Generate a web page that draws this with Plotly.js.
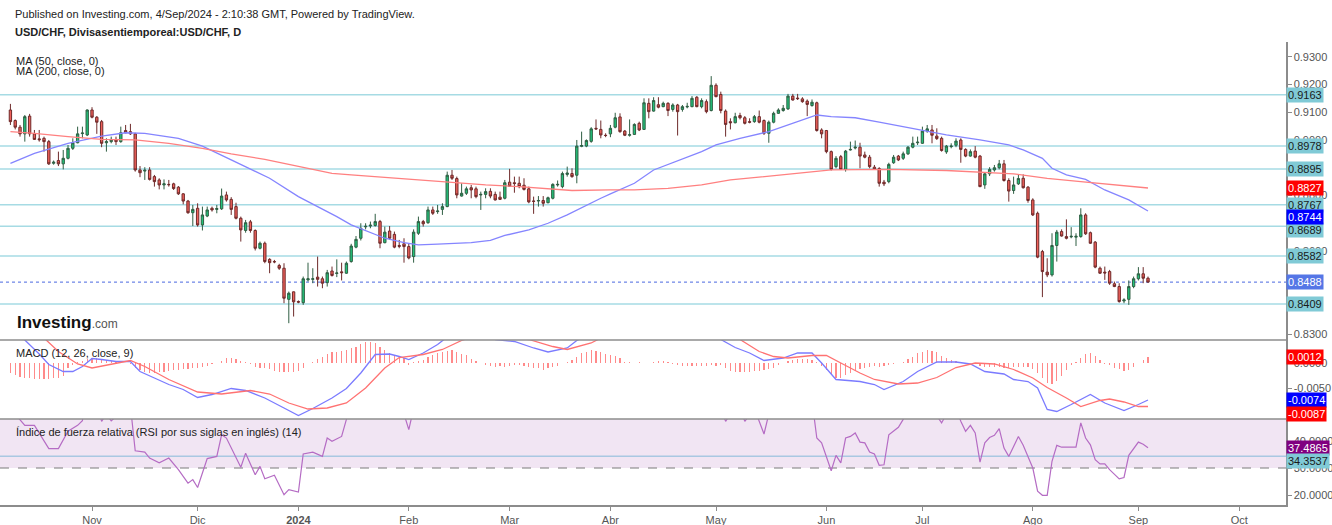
<!DOCTYPE html>
<html>
<head>
<meta charset="utf-8">
<script src="https://cdn.plot.ly/plotly-3.0.1.min.js"></script>
<style>
  body { margin: 0; background: #fff; }
  #chart { width: 1332px; height: 525px; }
</style>
</head>
<body>
<div id="chart"></div>
<script>
// USD/CHF daily candles, 9 Oct 2023 .. 4 Sep 2024, one entry per weekday
var open = [
  0.9108,0.9070,0.9046,0.9022,0.9086,0.9022,0.9004,0.9006,0.8994,0.8916,
  0.8926,0.8914,0.8934,0.8970,0.8990,0.9023,0.9018,0.9108,0.9082,0.9066,
  0.8990,0.8994,0.9002,0.8994,0.9034,0.9030,0.9022,0.8892,0.8888,0.8892,
  0.8868,0.8856,0.8838,0.8840,0.8842,0.8830,0.8806,0.8780,0.8738,0.8754,
  0.8694,0.8726,0.8754,0.8750,0.8752,0.8802,0.8786,0.8760,0.8718,0.8674,
  0.8705,0.8674,0.8610,0.8628,0.8570,0.8562,0.8548,0.8538,0.8426,0.8453,
  0.8418,0.8414,0.8496,0.8498,0.8506,0.8500,0.8486,0.8528,0.8519,0.8525,
  0.8520,0.8562,0.8614,0.8646,0.8687,0.8690,0.8692,0.8706,0.8630,0.8672,
  0.8660,0.8620,0.8626,0.8616,0.8580,0.8664,0.8706,0.8702,0.8748,0.8742,
  0.8750,0.8760,0.8873,0.8861,0.8798,0.8808,0.8828,0.8824,0.8802,0.8804,
  0.8815,0.8804,0.8794,0.8790,0.8848,0.8846,0.8844,0.8837,0.8824,0.8780,
  0.8780,0.8782,0.8774,0.8790,0.8838,0.8832,0.8876,0.8879,0.8873,0.8977,
  0.8978,0.8995,0.9042,0.9038,0.9017,0.9022,0.9046,0.9083,0.9032,0.9017,
  0.9020,0.9060,0.9038,0.9132,0.9104,0.9127,0.9120,0.9132,0.9110,0.9126,
  0.9110,0.9119,0.9120,0.9154,0.9120,0.9138,0.9106,0.9197,0.9164,0.9104,
  0.9066,0.9062,0.9088,0.9080,0.9066,0.9066,0.9084,0.9070,0.9024,0.9064,
  0.9096,0.9106,0.9112,0.9158,0.9151,0.9148,0.9140,0.9124,0.9134,0.9036,
  0.9034,0.8958,0.8904,0.8940,0.8894,0.8964,0.8971,0.8974,0.8946,0.8938,
  0.8902,0.8897,0.8848,0.8850,0.8918,0.8942,0.8934,0.8950,0.8974,0.8990,
  0.8988,0.9032,0.9036,0.9014,0.9006,0.8957,0.8976,0.8981,0.9000,0.8966,
  0.8942,0.8960,0.8942,0.8838,0.8878,0.8892,0.8900,0.8914,0.8854,0.8818,
  0.8842,0.8862,0.8830,0.8784,0.8736,0.8598,0.8524,0.8514,0.8620,0.8670,
  0.8652,0.8651,0.8650,0.8652,0.8730,0.8666,0.8632,0.8538,0.8524,0.8526,
  0.8482,0.8472,0.8420,0.8426,0.8472,0.8500,0.8518,0.8502
];
var high = [
  0.9130,0.9074,0.9054,0.9090,0.9094,0.9036,0.9036,0.9012,0.9000,0.8926,
  0.8958,0.8964,0.8982,0.9006,0.9048,0.9048,0.9110,0.9118,0.9086,0.9072,
  0.9006,0.9012,0.9012,0.9048,0.9054,0.9058,0.9026,0.8906,0.8902,0.8902,
  0.8874,0.8862,0.8858,0.8856,0.8846,0.8834,0.8808,0.8784,0.8766,0.8772,
  0.8760,0.8760,0.8760,0.8766,0.8825,0.8814,0.8794,0.8774,0.8724,0.8712,
  0.8712,0.8678,0.8634,0.8634,0.8574,0.8568,0.8554,0.8556,0.8454,0.8454,
  0.8422,0.8508,0.8558,0.8538,0.8580,0.8508,0.8532,0.8544,0.8570,0.8558,
  0.8562,0.8626,0.8654,0.8700,0.8700,0.8706,0.8734,0.8712,0.8688,0.8690,
  0.8670,0.8640,0.8646,0.8628,0.8678,0.8724,0.8712,0.8760,0.8760,0.8766,
  0.8772,0.8886,0.8892,0.8868,0.8844,0.8832,0.8838,0.8832,0.8814,0.8826,
  0.8826,0.8814,0.8814,0.8856,0.8896,0.8868,0.8868,0.8862,0.8832,0.8796,
  0.8798,0.8798,0.8796,0.8844,0.8854,0.8886,0.8904,0.8898,0.9000,0.9030,
  0.9002,0.9046,0.9074,0.9070,0.9024,0.9054,0.9098,0.9096,0.9036,0.9074,
  0.9060,0.9066,0.9150,0.9150,0.9154,0.9154,0.9138,0.9136,0.9132,0.9130,
  0.9126,0.9134,0.9158,0.9158,0.9150,0.9146,0.9230,0.9204,0.9174,0.9110,
  0.9078,0.9098,0.9098,0.9086,0.9078,0.9090,0.9106,0.9074,0.9070,0.9102,
  0.9114,0.9126,0.9166,0.9166,0.9166,0.9154,0.9146,0.9146,0.9138,0.9042,
  0.9036,0.8962,0.8942,0.8946,0.8964,0.8994,0.8998,0.8990,0.8958,0.8946,
  0.8910,0.8902,0.8856,0.8918,0.8946,0.8946,0.8958,0.8978,0.9012,0.9012,
  0.9048,0.9054,0.9054,0.9042,0.9012,0.8982,0.8988,0.9006,0.9006,0.8970,
  0.8966,0.8978,0.8946,0.8882,0.8902,0.8910,0.8928,0.8928,0.8862,0.8868,
  0.8874,0.8876,0.8834,0.8790,0.8742,0.8604,0.8574,0.8664,0.8676,0.8678,
  0.8714,0.8686,0.8664,0.8754,0.8736,0.8670,0.8636,0.8544,0.8544,0.8532,
  0.8490,0.8484,0.8430,0.8494,0.8508,0.8542,0.8542,0.8508
];
var low = [
  0.9054,0.9038,0.9012,0.8994,0.9012,0.9000,0.8994,0.8958,0.8910,0.8911,
  0.8906,0.8894,0.8930,0.8964,0.8988,0.9006,0.9014,0.9078,0.9022,0.8974,
  0.8958,0.8988,0.8982,0.8990,0.9024,0.9018,0.8886,0.8866,0.8856,0.8854,
  0.8832,0.8822,0.8822,0.8832,0.8820,0.8802,0.8768,0.8734,0.8690,0.8688,
  0.8674,0.8722,0.8742,0.8736,0.8748,0.8778,0.8730,0.8714,0.8634,0.8666,
  0.8666,0.8602,0.8606,0.8556,0.8520,0.8556,0.8532,0.8412,0.8340,0.8364,
  0.8412,0.8406,0.8490,0.8484,0.8472,0.8466,0.8472,0.8508,0.8506,0.8494,
  0.8518,0.8558,0.8610,0.8638,0.8678,0.8682,0.8688,0.8610,0.8628,0.8640,
  0.8610,0.8610,0.8558,0.8570,0.8558,0.8658,0.8688,0.8698,0.8730,0.8734,
  0.8730,0.8758,0.8856,0.8790,0.8796,0.8802,0.8790,0.8790,0.8748,0.8790,
  0.8790,0.8782,0.8784,0.8786,0.8832,0.8810,0.8826,0.8818,0.8772,0.8734,
  0.8760,0.8760,0.8772,0.8786,0.8832,0.8826,0.8868,0.8864,0.8844,0.8974,
  0.8974,0.8990,0.9036,0.9006,0.9010,0.9010,0.9042,0.9026,0.9014,0.9012,
  0.9018,0.9032,0.9036,0.9078,0.9102,0.9114,0.9118,0.9086,0.9102,0.9016,
  0.9102,0.9114,0.9118,0.9118,0.9114,0.9096,0.9103,0.9154,0.9096,0.9012,
  0.9038,0.9060,0.9074,0.9056,0.9060,0.9062,0.9060,0.9018,0.8990,0.9060,
  0.9094,0.9102,0.9108,0.9142,0.9144,0.9134,0.9086,0.9120,0.9030,0.9006,
  0.8952,0.8890,0.8898,0.8892,0.8886,0.8962,0.8966,0.8898,0.8934,0.8898,
  0.8892,0.8832,0.8834,0.8844,0.8914,0.8924,0.8928,0.8946,0.8970,0.8982,
  0.8986,0.9026,0.8988,0.9000,0.8958,0.8950,0.8970,0.8974,0.8918,0.8938,
  0.8940,0.8934,0.8830,0.8824,0.8870,0.8886,0.8894,0.8850,0.8778,0.8806,
  0.8838,0.8825,0.8774,0.8726,0.8574,0.8434,0.8506,0.8508,0.8562,0.8652,
  0.8642,0.8646,0.8618,0.8648,0.8658,0.8626,0.8538,0.8518,0.8496,0.8478,
  0.8470,0.8414,0.8412,0.8406,0.8466,0.8494,0.8484,0.8486
];
var close = [
  0.9066,0.9046,0.9022,0.9084,0.9022,0.9002,0.9001,0.8994,0.8914,0.8920,
  0.8914,0.8934,0.8970,0.8990,0.9022,0.9025,0.9108,0.9082,0.9064,0.8988,
  0.8994,0.9002,0.8994,0.9026,0.9026,0.9022,0.8892,0.8882,0.8891,0.8858,
  0.8850,0.8838,0.8842,0.8839,0.8825,0.8806,0.8780,0.8738,0.8750,0.8694,
  0.8730,0.8748,0.8748,0.8753,0.8798,0.8784,0.8750,0.8718,0.8676,0.8702,
  0.8674,0.8610,0.8628,0.8562,0.8558,0.8561,0.8538,0.8430,0.8448,0.8417,
  0.8416,0.8500,0.8500,0.8500,0.8498,0.8484,0.8522,0.8512,0.8521,0.8522,
  0.8556,0.8618,0.8642,0.8682,0.8689,0.8693,0.8706,0.8628,0.8668,0.8646,
  0.8614,0.8617,0.8616,0.8575,0.8668,0.8706,0.8698,0.8748,0.8736,0.8744,
  0.8760,0.8873,0.8862,0.8802,0.8808,0.8824,0.8820,0.8796,0.8804,0.8814,
  0.8798,0.8784,0.8786,0.8846,0.8833,0.8843,0.8832,0.8822,0.8777,0.8779,
  0.8782,0.8772,0.8792,0.8840,0.8840,0.8879,0.8881,0.8868,0.8978,0.8980,
  0.8998,0.9040,0.9040,0.9018,0.9016,0.9042,0.9080,0.9030,0.9017,0.9019,
  0.9056,0.9036,0.9134,0.9102,0.9142,0.9118,0.9132,0.9106,0.9126,0.9102,
  0.9120,0.9121,0.9150,0.9120,0.9142,0.9102,0.9197,0.9156,0.9106,0.9056,
  0.9062,0.9084,0.9080,0.9060,0.9064,0.9084,0.9064,0.9024,0.9064,0.9096,
  0.9108,0.9114,0.9158,0.9144,0.9149,0.9138,0.9128,0.9136,0.9034,0.9022,
  0.8958,0.8894,0.8934,0.8894,0.8960,0.8966,0.8974,0.8942,0.8938,0.8904,
  0.8894,0.8844,0.8842,0.8912,0.8938,0.8928,0.8950,0.8974,0.8988,0.8992,
  0.9032,0.9040,0.9017,0.9005,0.8962,0.8978,0.8978,0.8996,0.8966,0.8942,
  0.8958,0.8938,0.8832,0.8878,0.8894,0.8900,0.8914,0.8854,0.8816,0.8838,
  0.8861,0.8828,0.8782,0.8730,0.8578,0.8526,0.8514,0.8620,0.8668,0.8654,
  0.8646,0.8653,0.8653,0.8730,0.8662,0.8628,0.8542,0.8520,0.8521,0.8484,
  0.8472,0.8418,0.8424,0.8472,0.8500,0.8518,0.8502,0.8488
];
var bars = close.map(function (_, i) { return i; });

// month ticks (bar index of first trading day) and their labels
var monthTicks = [17, 39, 60, 83, 104, 125, 147, 170, 190, 213, 235, 256];
var monthLabels = ['Nov', 'Dic', '<b>2024</b>', 'Feb', 'Mar', 'Abr', 'May', 'Jun', 'Jul', 'Ago', 'Sep', 'Oct'];

// moving averages at these bars
var ma50Bars = [0,5,12,19,24,28,35,40,46,54,60,64,68,71,75,78,82,85,89,96,100,103,108,112,116,120,123,125,130,134,140,144,147,152,158,162,165,168,171,176,181,188,195,202,208,211,215,217,220,224,228,233,237];
var ma50 = [0.8916,0.8952,0.8988,0.9014,0.9026,0.9024,0.9006,0.8978,0.8928,0.8862,0.8796,0.8760,0.8724,0.8694,0.8666,0.8646,0.8630,0.8622,0.8625,0.8630,0.8638,0.8656,0.8676,0.8700,0.8730,0.8766,0.8790,0.8806,0.8844,0.8892,0.8930,0.8958,0.8982,0.9006,0.9030,0.9054,0.9074,0.9090,0.9084,0.9080,0.9064,0.9042,0.9018,0.9000,0.8982,0.8964,0.8934,0.8898,0.8874,0.8858,0.8820,0.8784,0.8744];
var ma200Bars = [0,5,12,19,26,33,40,46,53,60,67,71,78,85,92,99,106,113,117,125,130,137,144,150,158,164,171,183,195,209,216,223,230,237];
var ma200 = [0.9030,0.9024,0.9012,0.9002,0.9000,0.8988,0.8970,0.8950,0.8930,0.8904,0.8880,0.8874,0.8865,0.8856,0.8846,0.8838,0.8832,0.8822,0.8818,0.8820,0.8820,0.8826,0.8838,0.8856,0.8870,0.8882,0.8892,0.8894,0.8890,0.8878,0.8862,0.8850,0.8838,0.8827];

// MACD (12, 26, close, 9)
var macdBars = [0,3,6,8,11,13,15,17,19,22,25,27,30,33,36,39,42,46,49,53,57,60,63,67,70,73,76,79,81,83,86,89,91,95,98,101,105,109,112,116,118,120,125,130,135,140,145,148,151,154,157,161,164,167,169,172,177,180,182,186,189,193,197,200,203,207,209,212,214,216,218,221,224,225,228,232,235,237];
var macd = [0.0068,0.0046,0.0018,-0.0003,-0.0017,-0.0017,-0.0007,0.0009,0.0007,0.0003,0.0003,-0.0017,-0.0030,-0.0043,-0.0053,-0.0069,-0.0063,-0.0051,-0.0055,-0.0070,-0.0090,-0.0105,-0.0091,-0.0070,-0.0051,-0.0020,0.0017,0.0018,0.0013,0.0007,0.0020,0.0037,0.0052,0.0065,0.0060,0.0047,0.0043,0.0030,0.0022,0.0030,0.0045,0.0055,0.0070,0.0075,0.0085,0.0080,0.0070,0.0047,0.0031,0.0020,0.0005,0.0010,0.0020,0.0020,0.0000,-0.0033,-0.0037,-0.0043,-0.0053,-0.0037,-0.0017,0.0002,0.0002,-0.0002,-0.0017,-0.0022,-0.0033,-0.0037,-0.0050,-0.0093,-0.0097,-0.0083,-0.0067,-0.0063,-0.0080,-0.0095,-0.0083,-0.0074];
var signalBars = [0,7,10,14,17,21,25,28,33,39,44,50,54,58,62,66,70,74,78,81,86,90,94,97,102,108,113,116,121,123,128,135,142,148,152,156,159,162,167,170,173,177,180,185,189,193,197,201,205,209,213,216,220,223,227,229,232,235,237];
var signal = [0.0085,0.0050,0.0023,-0.0002,-0.0010,-0.0002,0.0005,-0.0007,-0.0033,-0.0058,-0.0062,-0.0055,-0.0062,-0.0080,-0.0092,-0.0090,-0.0080,-0.0050,-0.0010,0.0011,0.0017,0.0027,0.0045,0.0055,0.0052,0.0047,0.0033,0.0027,0.0040,0.0050,0.0062,0.0072,0.0070,0.0058,0.0047,0.0023,0.0013,0.0010,0.0015,0.0015,0.0000,-0.0020,-0.0033,-0.0042,-0.0040,-0.0029,-0.0009,0.0000,-0.0002,-0.0013,-0.0030,-0.0049,-0.0070,-0.0087,-0.0075,-0.0072,-0.0078,-0.0087,-0.0087];
var hist = [
  -0.0020,-0.0023,-0.0027,-0.0029,-0.0030,-0.0031,-0.0031,-0.0031,-0.0031,-0.0030,
  -0.0030,-0.0025,-0.0009,-0.0003,0.0002,0.0005,0.0009,0.0011,0.0010,0.0009,
  0.0007,0.0005,0.0003,0.0002,0.0001,-0.0002,-0.0009,-0.0013,-0.0017,-0.0020,
  -0.0020,-0.0018,-0.0017,-0.0015,-0.0013,-0.0013,-0.0011,-0.0011,-0.0010,-0.0009,
  -0.0007,-0.0005,-0.0002,0.0000,0.0005,0.0011,0.0011,0.0009,0.0005,0.0002,
  -0.0001,-0.0007,-0.0009,-0.0010,-0.0011,-0.0015,-0.0018,-0.0018,-0.0018,-0.0018,
  -0.0015,-0.0009,0.0000,0.0003,0.0009,0.0013,0.0018,0.0022,0.0023,0.0025,
  0.0027,0.0030,0.0033,0.0038,0.0042,0.0042,0.0040,0.0033,0.0027,0.0020,
  0.0017,0.0013,0.0010,-0.0003,0.0002,0.0005,0.0007,0.0013,0.0017,0.0020,
  0.0022,0.0025,0.0027,0.0023,0.0018,0.0017,0.0009,0.0005,0.0000,-0.0003,
  -0.0005,-0.0007,-0.0005,-0.0007,-0.0005,-0.0003,-0.0003,-0.0005,-0.0007,-0.0009,
  -0.0010,-0.0013,-0.0010,-0.0007,-0.0005,0.0000,0.0003,0.0007,0.0013,0.0020,
  0.0023,0.0027,0.0025,0.0022,0.0018,0.0017,0.0015,0.0010,0.0003,0.0002,
  0.0001,0.0002,0.0000,0.0000,0.0003,0.0005,0.0005,0.0002,-0.0001,-0.0003,
  -0.0005,-0.0005,-0.0005,-0.0005,-0.0005,-0.0006,-0.0003,-0.0005,-0.0003,-0.0010,
  -0.0015,-0.0017,-0.0018,-0.0018,-0.0017,-0.0015,-0.0015,-0.0013,-0.0011,-0.0009,
  -0.0003,0.0000,0.0005,0.0007,0.0009,0.0009,0.0009,0.0007,0.0002,-0.0005,
  -0.0013,-0.0022,-0.0029,-0.0029,-0.0023,-0.0020,-0.0015,-0.0011,-0.0009,-0.0007,
  -0.0005,-0.0007,-0.0005,-0.0003,-0.0002,0.0000,0.0003,0.0009,0.0013,0.0020,
  0.0023,0.0027,0.0025,0.0022,0.0015,0.0011,0.0007,0.0005,0.0002,0.0001,
  0.0001,-0.0001,-0.0005,-0.0007,-0.0007,-0.0007,-0.0007,-0.0009,-0.0009,-0.0007,
  -0.0007,-0.0007,-0.0007,-0.0011,-0.0020,-0.0030,-0.0040,-0.0042,-0.0035,-0.0025,
  -0.0013,-0.0003,0.0002,0.0010,0.0018,0.0020,0.0015,0.0007,-0.0001,-0.0003,
  -0.0009,-0.0011,-0.0015,-0.0013,-0.0007,0.0000,0.0007,0.0012
];

// RSI (14)
var rsiBars = [0,1,3,5,6,8,10,11,12,14,15,16,17,18,19,20,21,22,23,24,25,26,28,29,31,33,35,37,38,39,41,43,44,45,48,49,51,52,53,55,57,58,60,61,63,65,66,67,69,70,71,73,76,77,78,80,82,83,84,85,87,91,93,97,100,102,103,108,109,113,118,121,124,126,128,132,137,139,142,145,146,148,149,150,152,153,155,157,158,162,166,167,168,169,171,172,173,174,175,176,177,178,179,180,181,182,183,185,186,188,190,192,194,195,197,198,199,200,201,202,203,204,205,206,207,208,210,211,213,214,215,216,217,218,219,222,223,224,225,226,227,228,229,231,232,233,234,235,236,237];
var rsi = [52,50,45.8,45.8,43.0,37.2,37.2,40.5,43.6,45.8,47.5,60,57,54,47.3,50,47.5,49,55,54,53,36.4,35.9,33.7,31.9,33.7,29.4,24.4,25.7,22.8,33.5,34.3,42.3,41.1,30.3,35.5,27.5,30.6,26.0,27.3,20.1,22.0,21.1,35.2,35.9,34.3,41.1,39.9,41.7,48,56,62,64,54,58,52,50,44.2,56,60,63,70,60,56,55,53,59,52,52,58,72,75,66,68,60,68,62,60,65,58,70,52,47.3,50,52,47.3,52,42.6,50,62,57,55,41.1,39.3,29.0,34.7,31.9,41.1,41.7,43.0,39.6,39.3,35.9,35.2,31.0,31.2,42.3,45.1,48,55,62,52,46.7,50,52,47.3,43.6,45.8,43.0,32.2,39.3,41.3,42.1,44.6,37.4,34.3,41.7,38.4,30.0,21.4,19.9,19.9,32.5,38.4,37.7,37.7,46.7,41.1,38.6,33.1,31.5,31.5,29.4,26.0,26.5,34.7,37.4,39.6,38.8,37.49];

// horizontal levels drawn on the price pane
var levels = [0.9163, 0.8978, 0.8895, 0.8767, 0.8689, 0.8582, 0.8409];
var lastPrice = 0.8488;
var rsiSignal = 34.3537;

// right price scale: ticks every 0.01, labels hidden where the tags sit on top of them
var priceTicks = [0.83, 0.84, 0.85, 0.86, 0.87, 0.88, 0.89, 0.90, 0.91, 0.92, 0.93];
var priceTickText = ['0.8300', '', '', '0.8600', '', '0.8800', '', '0.9000', '0.9100', '0.9200', '0.9300'];

// pixel helpers for the frame: plot area is x 0..1286, y 42..505
var W = 1286, TOP = 42, BOT = 505, H = BOT - TOP;
function px(x) { return x / W; }
function py(y) { return (BOT - y) / H; }

var font = 'Liberation Sans, Arial, sans-serif';
var grey = '#8c8c8c';

var data = [
  {
    type: 'candlestick', x: bars, open: open, high: high, low: low, close: close,
    xaxis: 'x', yaxis: 'y',
    increasing: { fillcolor: '#22c27a', line: { color: '#2f5e43', width: 1 } },
    decreasing: { fillcolor: '#f0605a', line: { color: '#6e2a2a', width: 1 } },
    hoverinfo: 'skip'
  },
  { type: 'scatter', mode: 'lines', x: ma50Bars, y: ma50, yaxis: 'y',
    line: { color: '#8585ff', width: 1.3 }, hoverinfo: 'skip' },
  { type: 'scatter', mode: 'lines', x: ma200Bars, y: ma200, yaxis: 'y',
    line: { color: '#ff8080', width: 1.3 }, hoverinfo: 'skip' },
  { type: 'bar', x: bars, y: hist, yaxis: 'y2', width: 0.25,
    marker: { color: '#ff8a8a', line: { width: 0 } }, hoverinfo: 'skip' },
  { type: 'scatter', mode: 'lines', x: macdBars, y: macd, yaxis: 'y2',
    line: { color: '#7b7bff', width: 1.3 }, hoverinfo: 'skip' },
  { type: 'scatter', mode: 'lines', x: signalBars, y: signal, yaxis: 'y2',
    line: { color: '#ff7272', width: 1.3 }, hoverinfo: 'skip' },
  { type: 'scatter', mode: 'lines', x: rsiBars, y: rsi, yaxis: 'y3',
    line: { color: '#b56cc4', width: 1.2 }, hoverinfo: 'skip' }
];

function rightAxis(domain, range, vals, text) {
  return {
    domain: domain, range: range, anchor: 'x', side: 'right',
    tickvals: vals, ticktext: text,
    showline: true, linecolor: grey, linewidth: 1.5,
    ticks: 'outside', ticklen: 4, tickcolor: grey,
    tickfont: { family: font, size: 11, color: '#555' },
    showgrid: false, zeroline: false, fixedrange: true
  };
}

var shapes = [];
levels.forEach(function (v) {
  shapes.push({ type: 'line', xref: 'paper', x0: 0, x1: 1, yref: 'y', y0: v, y1: v,
    line: { color: '#a6dbe4', width: 1.5 }, layer: 'below' });
});
shapes.push({ type: 'line', xref: 'paper', x0: 0, x1: 1, yref: 'y', y0: lastPrice, y1: lastPrice,
  line: { color: '#4a68e0', width: 1, dash: 'dot' }, layer: 'below' });
shapes.push({ type: 'rect', xref: 'paper', x0: 0, x1: 1, yref: 'y3', y0: 30, y1: 70,
  fillcolor: '#f1e5f3', line: { width: 0 }, layer: 'below' });
shapes.push({ type: 'line', xref: 'paper', x0: 0, x1: 1, yref: 'y3', y0: rsiSignal, y1: rsiSignal,
  line: { color: '#a9c8e2', width: 1.5 }, layer: 'below' });
shapes.push({ type: 'line', xref: 'paper', x0: 0, x1: 1, yref: 'y3', y0: 30, y1: 30,
  line: { color: '#7a7a7a', width: 1, dash: 'dash' }, layer: 'below' });
[340, 419].forEach(function (y) {
  shapes.push({ type: 'line', xref: 'paper', x0: 0, x1: 1, yref: 'paper', y0: py(y), y1: py(y),
    line: { color: grey, width: 1.5 } });
});

function tag(v, yref, bg, fg, text, shift) {
  return {
    xref: 'paper', x: 1, xanchor: 'left', yref: yref, y: v, yanchor: 'middle',
    yshift: shift || 0, text: text, showarrow: false, bgcolor: bg, borderpad: 1,
    font: { family: font, size: 11, color: fg }
  };
}
function label(x, y, text, size, color) {
  return {
    xref: 'paper', yref: 'paper', x: px(x), y: py(y), xanchor: 'left', yanchor: 'middle',
    text: text, showarrow: false, font: { family: font, size: size, color: color }
  };
}

var annotations = [
  label(13, 14, 'Published on Investing.com, 4/Sep/2024 - 2:10:38 GMT, Powered by TradingView.', 11, '#222'),
  label(13, 32, '<b>USD/CHF, Divisasentiemporeal:USD/CHF, D</b>', 11, '#222'),
  label(14, 61, 'MA (50, close, 0)', 11, '#222'),
  label(14, 71, 'MA (200, close, 0)', 11, '#222'),
  label(14, 353, 'MACD (12, 26, close, 9)', 11, '#222'),
  label(14, 432, 'Índice de fuerza relativa (RSI por sus siglas en inglés) (14)', 11, '#222'),
  label(15, 322, '<b>Investing</b><span style="font-size:12px;color:#555">.com</span>', 17, '#111')
];
levels.forEach(function (v) {
  var shift = v === 0.8689 ? -4 : 0;
  annotations.push(tag(v, 'y', '#80cad6', '#1a1a1a', v.toFixed(4), shift));
});
annotations.push(tag(ma200[ma200.length - 1], 'y', '#ff0000', '#fff', ma200[ma200.length - 1].toFixed(4)));
annotations.push(tag(ma50[ma50.length - 1], 'y', '#0000ff', '#fff', ma50[ma50.length - 1].toFixed(4), -6));
annotations.push(tag(lastPrice, 'y', '#5576e6', '#fff', lastPrice.toFixed(4)));
annotations.push(tag(hist[hist.length - 1], 'y2', '#ff0000', '#fff', hist[hist.length - 1].toFixed(4)));
annotations.push(tag(macd[macd.length - 1], 'y2', '#0000ff', '#fff', macd[macd.length - 1].toFixed(4)));
annotations.push(tag(signal[signal.length - 1], 'y2', '#ff0000', '#fff', signal[signal.length - 1].toFixed(4), -7));
annotations.push(tag(rsi[rsi.length - 1], 'y3', '#800080', '#fff', '37.4865'));
annotations.push(tag(rsiSignal, 'y3', '#80cad6', '#1a1a1a', rsiSignal.toFixed(4), -5));

var layout = {
  width: 1332, height: 525,
  margin: { l: 0, r: 1332 - W, t: TOP, b: 525 - BOT },
  paper_bgcolor: '#fff', plot_bgcolor: '#fff',
  showlegend: false, hovermode: false, bargap: 0,
  font: { family: font, size: 11, color: '#333' },
  xaxis: {
    domain: [0, 1], anchor: 'y3', range: [-2.17, 265.75],
    tickvals: monthTicks, ticktext: monthLabels,
    showline: true, linecolor: grey, linewidth: 1.5,
    ticks: 'outside', ticklen: 4, tickcolor: grey,
    tickfont: { family: font, size: 11, color: '#555' },
    showgrid: false, zeroline: false, fixedrange: true,
    rangeslider: { visible: false }
  },
  yaxis: rightAxis([py(340), 1], [0.82795, 0.93529], priceTicks, priceTickText),
  yaxis2: rightAxis([py(419), py(340)], [-0.0112, 0.0046], [0, -0.005], ['0.0000', '-0.0050']),
  yaxis3: rightAxis([0, py(419)], [16.3, 48.15], [20, 30, 40], ['20.0000', '30.0000', '40.0000']),
  shapes: shapes,
  annotations: annotations
};

var config = { displayModeBar: false, staticPlot: true };

Plotly.newPlot('chart', data, layout, config);
</script>
</body>
</html>
